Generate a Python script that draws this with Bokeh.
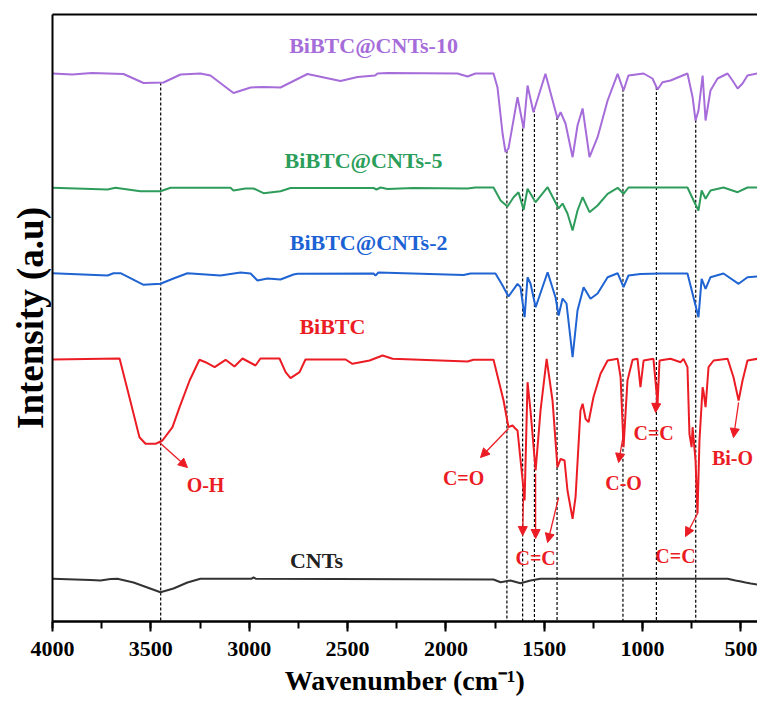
from bokeh.plotting import figure
from bokeh.models import (Range1d, ColumnDataSource, LinearAxis, FixedTicker,
                          SingleIntervalTicker, Arrow, NormalHead)
from bokeh.core.properties import value
from bokeh.embed import file_html
from bokeh.resources import INLINE
import numpy as np

# FTIR spectra, stacked (wavenumber in cm^-1, intensity in a.u. incl. offset)
cnt10_wn = [4000, 3900, 3800, 3639, 3537, 3436, 3349, 3248, 3197, 3080, 2993, 2927, 2841, 2790,
            2704, 2536, 2449, 2360, 2348, 2297, 1941, 1890, 1850, 1758, 1738, 1712, 1697,
            1682, 1636, 1605, 1585, 1555, 1494, 1433, 1417, 1392, 1356, 1331, 1305, 1270,
            1229, 1178, 1127, 1097, 1072, 995, 950, 924, 899, 858, 772, 746, 731, 716, 695,
            680, 655, 619, 568, 543, 517, 492, 467, 416]
cnt10_int = [548, 547, 548.5, 547.5, 538.5, 539, 547, 548, 546, 528.5, 534, 534.5, 534, 539,
             547.5, 540.5, 544.5, 546, 548, 548.5, 548, 545, 548, 548, 534.3, 488, 469.3,
             473, 524.3, 493, 536, 509.3, 547.7, 503, 509.3, 498, 464.3, 496, 513, 464.3,
             484.3, 521, 547.7, 531, 546, 548, 543, 532, 539.3, 541, 548, 524.3, 501, 511, 546,
             501, 531, 543, 548, 541, 533, 538, 546, 548]

cnt5_wn = [4000, 3720, 3680, 3553, 3451, 3400, 3095, 3080, 3019, 2978, 2927, 2841, 2790, 2368,
           2353, 2332, 2297, 2165, 1890, 1850, 1758, 1722, 1687, 1656, 1631, 1605, 1585,
           1544, 1483, 1427, 1407, 1382, 1356, 1331, 1305, 1270, 1229, 1178, 1127, 1097,
           1072, 772, 741, 716, 700, 680, 655, 589, 517, 467, 416]
cnt5_int = [433.7, 432, 433.7, 430.3, 430.3, 433.7, 433.7, 431, 433, 433, 428.3, 430.3, 433.5,
            433.5, 432, 434, 432.5, 433.5, 433, 434, 434, 421, 415, 424.3, 429.3, 411.7, 432.7,
            419.3, 434.3, 413, 418, 408, 391, 411, 424.3, 409.3, 416, 427.7, 433.7, 427.7,
            434, 434, 421, 411, 431, 422.7, 431, 434, 429.3, 434, 434]

cnt2_wn = [4000, 3720, 3690, 3654, 3537, 3451, 3385, 3314, 3146, 3044, 2993, 2958, 2907, 2841,
           2775, 2754, 2368, 2358, 2343, 1910, 1875, 1748, 1712, 1682, 1636, 1621, 1600,
           1585, 1570, 1544, 1483, 1443, 1427, 1407, 1387, 1356, 1331, 1300, 1265, 1229,
           1178, 1127, 1097, 1072, 1011, 909, 772, 746, 716, 700, 680, 655, 589, 512, 467, 416]
cnt2_int = [348.3, 346, 348.3, 348.3, 336.7, 337.7, 343, 348.3, 346, 349, 348, 341, 343, 342,
            347, 347.7, 348, 346, 349, 346.5, 348, 348, 336, 325, 337.7, 334.3, 304.3,
            344.3, 338, 314.3, 349.3, 324.3, 306, 323, 318, 264.3, 311, 334.3, 322.7, 328,
            344.3, 348.3, 334.3, 346, 347.5, 348, 348, 327.7, 304.3, 342.7, 332.7, 344.3,
            348, 337.7, 344.3, 345]

bibtc_wn = [4000, 3659, 3609, 3558, 3527, 3476, 3441, 3390, 3354, 3303, 3253, 3222, 3176, 3120,
            3075, 3034, 2968, 2943, 2846, 2815, 2790, 2744, 2714, 2510, 2475, 2388, 2322,
            2271, 1890, 1860, 1758, 1707, 1682, 1661, 1646, 1636, 1610, 1600, 1585, 1570,
            1544, 1519, 1488, 1458, 1433, 1417, 1397, 1382, 1356, 1341, 1316, 1305, 1290,
            1275, 1250, 1214, 1178, 1127, 1112, 1097, 1077, 1051, 1026, 1011, 995, 945, 924,
            914, 858, 807, 792, 772, 762, 751, 746, 731, 721, 711, 695, 690, 680, 665, 639,
            568, 538, 512, 492, 467, 416]
bibtc_int = [262, 263, 224.3, 184.3, 177.7, 177.7, 181, 194.3, 214.3, 241, 261.7, 259.3, 254.3,
             261.7, 255, 263, 256, 263, 263, 249.3, 243.3, 249.3, 262, 262, 257.7, 261, 266,
             262.7, 260, 261.7, 261.7, 221, 194.3, 196, 192.7, 191, 141, 121, 239.3, 211,
             151, 211, 262.7, 221, 154.3, 162.7, 161, 131, 102.7, 124.3, 211, 217.7, 202.7,
             199.3, 224.3, 247.7, 261, 262.7, 244.3, 174.3, 241, 261.7, 262.7, 234.3, 261,
             262.7, 217.7, 261, 262.7, 259.3, 262.7, 254.3, 187.7, 174.3, 194.3, 161, 107.7,
             181, 234.3, 229.3, 214.3, 254.3, 261, 262.7, 244.3, 221, 241, 261, 262.7]

cnts_wn = [4000, 3807, 3756, 3705, 3670, 3588, 3451, 3385, 3314, 3248, 2990, 2978, 2965, 1758,
           1722, 1672, 1621, 1570, 1519, 568, 528, 500, 477, 450, 416]
cnts_int = [42.7, 41.5, 41, 42.5, 42.7, 39, 29.3, 33, 39, 42.7, 42.7, 44, 42.7, 42, 39.3, 41,
            38.3, 41, 42.7, 42.7, 41, 40, 39, 38, 37]

series_names = ["BiBTC@CNTs-10", "BiBTC@CNTs-5", "BiBTC@CNTs-2", "BiBTC", "CNTs"]
series_colors = ["#A66CDA", "#2E9D5C", "#1F64D2", "#EC1C24", "#333333"]
label_colors = ["#A66CDA", "#2A9E5A", "#1C62D4", "#EC1C24", "#222222"]

# characteristic band positions (cm^-1) marked with dotted guides
band_wn = [3450, 1690, 1610, 1550, 1435, 1100, 930, 730]

# band assignments: text, label position, arrow start -> end (wavenumber, intensity)
assign_text = ["O-H", "C=O", "C=C", "C-O", "C=C", "C=C", "Bi-O"]
assign_x = [3222, 1910, 1544, 1097, 944, 833, 543]
assign_y = [137, 144, 64, 139, 189, 66, 164]
arrows = [((3456, 179), (3314, 154)),
          ((1682, 193), (1824, 164)),
          ((1605, 133), (1610, 86)),
          ((1544, 148), (1544, 83)),
          ((1427, 124), (1483, 79)),
          ((1097, 188), (1122, 159)),
          ((924, 238), (934, 209)),
          ((721, 108), (782, 85)),
          ((512, 219), (538, 184))]

series_label_x = [2368, 2419, 2393, 2577, 2658]
series_label_y = [576, 461, 379, 295, 61]

SERIF = value("Liberation Serif")

p = figure(width=757, height=707, x_range=Range1d(4000, 416), y_range=Range1d(0, 607),
           output_backend="svg", toolbar_location=None,
           min_border_left=52, min_border_right=0, min_border_top=14, min_border_bottom=86,
           x_axis_label="Wavenumber (cm\u207b\u00b9)", y_axis_label="Intensity (a.u)")
p.outline_line_color = None
p.grid.visible = False
p.background_fill_color = "white"
p.border_fill_color = "white"

# bottom axis
xa = p.xaxis[0]
xa.ticker = SingleIntervalTicker(interval=500, num_minor_ticks=2)
xa.axis_line_width = 2.5
xa.major_tick_in = 0
xa.major_tick_out = 10
xa.minor_tick_in = 0
xa.minor_tick_out = 7
xa.major_tick_line_width = 2
xa.minor_tick_line_width = 2
xa.major_label_standoff = 10
xa.major_label_text_font = "Liberation Serif"
xa.major_label_text_font_style = "bold"
xa.major_label_text_font_size = "22px"
xa.major_label_text_color = "black"
xa.axis_label_text_font = "Liberation Serif"
xa.axis_label_text_font_style = "bold"
xa.axis_label_text_font_size = "28px"
xa.axis_label_text_color = "black"
xa.axis_label_standoff = 6

# left axis: line and title only
ya = p.yaxis[0]
ya.ticker = FixedTicker(ticks=[])
ya.axis_line_width = 2
ya.axis_label_text_font = "Liberation Serif"
ya.axis_label_text_font_style = "bold"
ya.axis_label_text_font_size = "37px"
ya.axis_label_text_color = "black"
ya.axis_label_standoff = 2

# top frame line
top = LinearAxis(ticker=FixedTicker(ticks=[]), axis_line_width=2)
p.add_layout(top, "above")

# dotted guides from the top spectrum down to the axis
top_wn = np.array(cnt10_wn[::-1], dtype=float)
top_int = np.array(cnt10_int[::-1], dtype=float)
guide_top = np.interp(band_wn, top_wn, top_int)
p.segment(x0=band_wn, y0=guide_top, x1=band_wn, y1=[0] * len(band_wn),
          line_color="black", line_width=1.2, line_dash="3 2")

# spectra
all_wn = [cnt10_wn, cnt5_wn, cnt2_wn, bibtc_wn, cnts_wn]
all_int = [cnt10_int, cnt5_int, cnt2_int, bibtc_int, cnts_int]
for wn, it, col in zip(all_wn, all_int, series_colors):
    src = ColumnDataSource(dict(x=wn, y=it))
    p.line("x", "y", source=src, line_color=col, line_width=2)

# sample names
lab_src = ColumnDataSource(dict(x=series_label_x, y=series_label_y, t=series_names,
                                c=label_colors))
p.text("x", "y", text="t", source=lab_src, text_color="c", text_font=SERIF,
       text_font_style="bold", text_font_size="22px", text_align="center",
       text_baseline="middle")

# band assignment arrows and labels
for (s, e) in arrows:
    p.add_layout(Arrow(x_start=s[0], y_start=s[1], x_end=e[0], y_end=e[1],
                       line_color="#EC1C24", line_width=1.3,
                       end=NormalHead(size=9, fill_color="#EC1C24", line_color="#EC1C24")))

asg_src = ColumnDataSource(dict(x=assign_x, y=assign_y, t=assign_text))
p.text("x", "y", text="t", source=asg_src, text_color="#EC1C24", text_font=SERIF,
       text_font_style="bold", text_font_size="20px", text_align="center",
       text_baseline="middle")

open("out.html", "w").write(file_html(p, INLINE))
